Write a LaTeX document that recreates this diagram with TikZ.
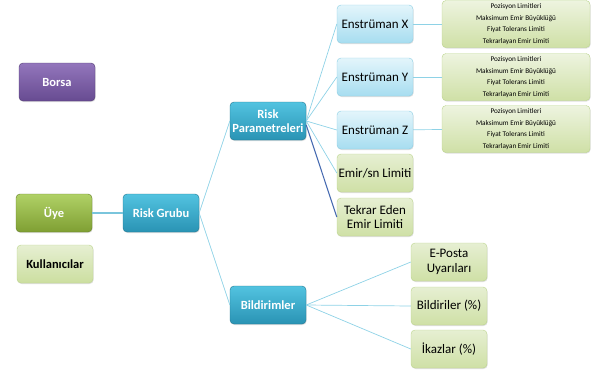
\documentclass[tikz,border=0pt]{standalone}
\usepackage{fontspec}
\setmainfont{Carlito}
\usetikzlibrary{shadows}

\definecolor{morust}{HTML}{9376BC}
\definecolor{moralt}{HTML}{674B91}
\definecolor{yesilust}{HTML}{B0D166}
\definecolor{yesilalt}{HTML}{7F9F33}
\definecolor{acikyesilust}{HTML}{E6EFD2}
\definecolor{acikyesilalt}{HTML}{CFE0A6}
\definecolor{yesilkenar}{HTML}{BCD58E}
\definecolor{maviust}{HTML}{52C3E0}
\definecolor{mavialt}{HTML}{2A93B4}
\definecolor{acikmaviust}{HTML}{E3F5FB}
\definecolor{acikmavialt}{HTML}{A7DDF0}
\definecolor{mavikenar}{HTML}{8CCFE4}
\definecolor{cizgi}{HTML}{8ED2E6}
\definecolor{koyucizgi}{HTML}{4A6DB2}

\begin{document}
\begin{tikzpicture}[x=1pt,y=-1pt,
	kutu/.style={rounded corners=4pt, minimum width=76pt, minimum height=38pt, inner sep=1pt, align=center,
		drop shadow={opacity=0.25, shadow xshift=0.6pt, shadow yshift=-1pt}},
	koyu/.style={kutu, draw=#1!80!black, text=white, font=\fontsize{12.5}{14}\selectfont\bfseries},
	mor/.style={koyu=moralt, top color=morust, bottom color=moralt},
	yesil/.style={koyu=yesilalt, top color=yesilust, bottom color=yesilalt},
	mavi/.style={koyu=mavialt, top color=maviust, bottom color=mavialt},
	acikmavi/.style={kutu, draw=mavikenar, top color=acikmaviust, bottom color=acikmavialt, font=\fontsize{13}{14.5}\selectfont},
	acikyesil/.style={kutu, draw=yesilkenar, top color=acikyesilust, bottom color=acikyesilalt, font=\fontsize{13}{14.5}\selectfont},
	detay/.style={kutu, draw=yesilkenar, top color=acikyesilust!70!white, bottom color=acikyesilalt,
		minimum width=148pt, minimum height=47pt, font=\fontsize{7.2}{11.8}\selectfont},
	baglanti/.style={draw=cizgi, line width=0.7pt}]
	\useasboundingbox (0,0) rectangle (591,370);

	\node[mor] (borsa) at (57,82) {Borsa};
	\node[yesil] (uye) at (54,213) {Üye};
	\node[kutu, draw=yesilkenar, top color=acikyesilust, bottom color=acikyesilalt!90!yesilust, font=\fontsize{12.5}{14}\selectfont\bfseries] (kullanici) at (55,264) {Kullanıcılar};
	\node[mavi] (riskgrubu) at (161,213) {Risk Grubu};
	\node[mavi] (riskparam) at (268,121) {Risk\\Parametreleri};
	\node[mavi] (bildirim) at (268,305) {Bildirimler};

	\node[acikmavi] (enstX) at (375,24) {Enstrüman X};
	\node[acikmavi] (enstY) at (375,77) {Enstrüman Y};
	\node[acikmavi] (enstZ) at (375,130) {Enstrüman Z};
	\node[acikyesil] (emirsn) at (375,173) {Emir/sn Limiti};
	\node[acikyesil] (tekrar) at (375,217) {Tekrar Eden\\Emir Limiti};

	\node[detay] (detayX) at (516,24) {Pozisyon Limitleri\\Maksimum Emir Büyüklüğü\\Fiyat Tolerans Limiti\\Tekrarlayan Emir Limiti};
	\node[detay] (detayY) at (516,77) {Pozisyon Limitleri\\Maksimum Emir Büyüklüğü\\Fiyat Tolerans Limiti\\Tekrarlayan Emir Limiti};
	\node[detay] (detayZ) at (516,129) {Pozisyon Limitleri\\Maksimum Emir Büyüklüğü\\Fiyat Tolerans Limiti\\Tekrarlayan Emir Limiti};

	\node[acikyesil] (eposta) at (449,262) {E-Posta\\Uyarıları};
	\node[acikyesil] (bildiri) at (449,306) {Bildiriler (\%)};
	\node[acikyesil] (ikaz) at (449,349) {İkazlar (\%)};

	\draw[draw=cizgi!80!mavialt, line width=2pt] (uye) -- (riskgrubu);
	\draw[baglanti] (riskgrubu.east) -- (riskparam.west);
	\draw[baglanti] (riskgrubu.east) -- (bildirim.west);
	\draw[baglanti] (riskparam.east) -- (enstX.west);
	\draw[baglanti] (riskparam.east) -- (enstY.west);
	\draw[baglanti] (riskparam.east) -- (enstZ.west);
	\draw[baglanti] (riskparam.east) -- (emirsn.west);
	\draw[draw=koyucizgi, line width=1.1pt] ([yshift=-4pt]riskparam.east) -- (tekrar.west);
	\draw[baglanti] (enstX) -- (detayX);
	\draw[baglanti] (enstY) -- (detayY);
	\draw[baglanti] (enstZ) -- (detayZ);
	\draw[baglanti] (bildirim.east) -- (eposta.west);
	\draw[baglanti] (bildirim.east) -- (bildiri.west);
	\draw[baglanti] (bildirim.east) -- (ikaz.west);
\end{tikzpicture}
\end{document}
